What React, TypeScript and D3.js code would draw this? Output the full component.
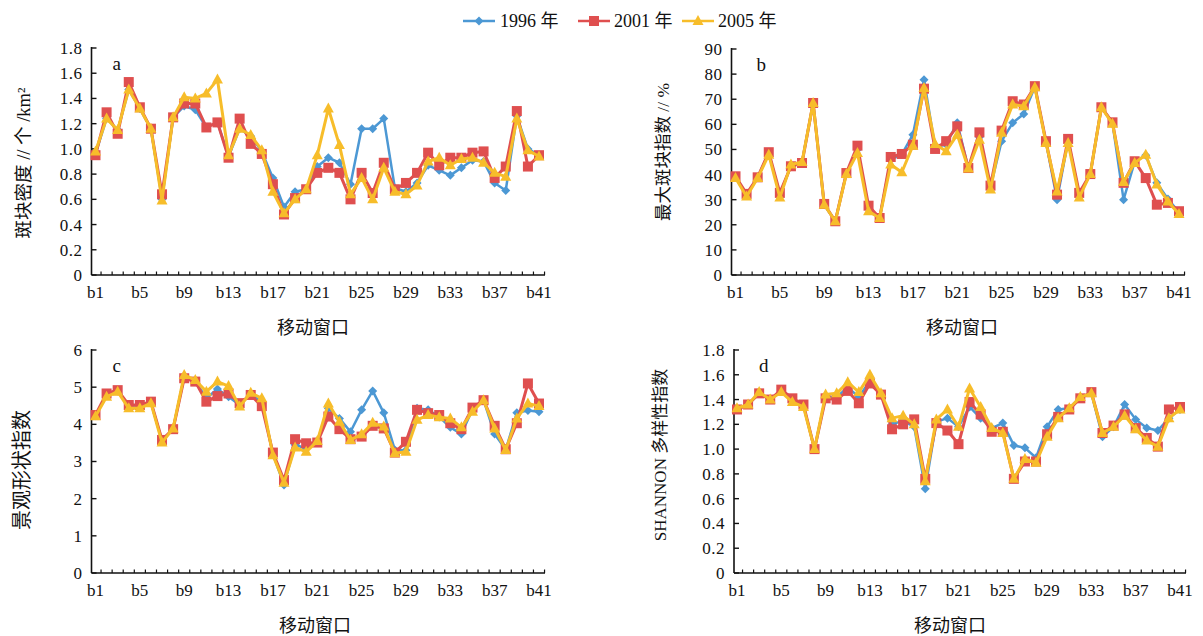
import React from "react";
import * as d3 from "d3";

const categories = Array.from({ length: 41 }, (_, i) => `b${i + 1}`);
const tickLabelCats = ["b1", "b5", "b9", "b13", "b17", "b21", "b25", "b29", "b33", "b37", "b41"];
const seriesNames = ["1996 年", "2001 年", "2005 年"];

// Panel a: 斑块密度
const a1996 = [0.96,1.24,1.15,1.47,1.32,1.16,0.60,1.25,1.34,1.31,1.17,1.21,0.94,1.16,1.10,0.98,0.77,0.54,0.66,0.68,0.86,0.93,0.89,0.72,1.16,1.16,1.24,0.69,0.66,0.73,0.87,0.83,0.79,0.85,0.91,0.90,0.73,0.67,1.26,1.00,0.95];
const a2001 = [0.95,1.29,1.12,1.53,1.33,1.16,0.64,1.25,1.36,1.36,1.17,1.21,0.93,1.24,1.04,0.96,0.72,0.48,0.61,0.68,0.81,0.85,0.81,0.60,0.81,0.65,0.89,0.68,0.73,0.81,0.97,0.87,0.93,0.93,0.97,0.98,0.77,0.86,1.30,0.86,0.95];
const a2005 = [0.98,1.24,1.15,1.47,1.32,1.16,0.59,1.25,1.41,1.40,1.44,1.55,0.95,1.16,1.11,0.99,0.66,0.49,0.60,0.68,0.95,1.32,1.03,0.64,0.77,0.60,0.85,0.66,0.64,0.71,0.90,0.93,0.87,0.92,0.93,0.89,0.81,0.78,1.24,0.99,0.94];

// Panel b: 最大斑块指数
const b1996 = [39,32,39,48.5,32,43.5,45,68.5,28,21.4,40.5,50,26.5,22.7,46,48,55.9,77.8,51,52,60.6,42.5,55,35,53.3,60.6,64.1,75,53,30,53.5,32,40.2,66.8,60.5,30,45,47.7,36.7,30.3,25];
const b2001 = [39.3,32.3,38.9,48.9,32.7,43.3,44.6,68.5,28.3,21.4,40.6,51.5,27.6,22.7,47,48.2,51.9,74.2,50.2,53.3,59.2,42.6,56.8,35.6,57.5,69.2,67.9,75.2,53.3,32,54.2,32.7,40.2,66.8,60.8,36.7,45.3,38.6,28,28.7,25.4];
const b2005 = [38.6,31.3,38.6,47.9,30.9,44,45,68.5,28,21.4,40.2,48.6,25.4,22.7,44,40.9,51.5,74.5,52.2,49.3,55.9,42.4,53.9,34,56.6,67.9,67.2,74.8,52.6,33.3,52.6,30.9,40.2,66.8,60.2,37,44.6,47.9,36,29.3,24.3];

// Panel c: 景观形状指数
const c1996 = [4.23,4.78,4.90,4.47,4.47,4.59,3.54,3.88,5.28,5.17,4.70,4.95,4.74,4.52,4.82,4.60,3.20,2.37,3.45,3.35,3.55,4.43,4.16,3.80,4.39,4.90,4.31,3.31,3.30,4.43,4.39,4.20,3.92,3.74,4.40,4.65,3.74,3.32,4.31,4.37,4.34];
const c2001 = [4.25,4.83,4.92,4.52,4.52,4.61,3.58,3.87,5.24,5.15,4.61,4.76,4.83,4.57,4.79,4.49,3.24,2.50,3.60,3.49,3.51,4.21,3.87,3.60,3.67,3.96,3.89,3.24,3.53,4.39,4.30,4.25,4.03,3.87,4.45,4.65,3.96,3.33,4.03,5.10,4.56];
const c2005 = [4.22,4.74,4.88,4.43,4.43,4.57,3.51,3.89,5.33,5.19,4.88,5.15,5.03,4.48,4.85,4.70,3.17,2.43,3.38,3.26,3.55,4.56,4.07,3.58,3.73,4.04,3.94,3.22,3.26,4.12,4.25,4.19,4.16,3.92,4.34,4.65,3.89,3.31,4.16,4.56,4.49];

// Panel d: SHANNON 多样性指数
const d1996 = [1.32,1.36,1.45,1.40,1.47,1.40,1.35,1.00,1.42,1.42,1.50,1.42,1.55,1.44,1.20,1.23,1.18,0.68,1.22,1.25,1.18,1.34,1.25,1.17,1.21,1.03,1.01,0.93,1.18,1.32,1.33,1.42,1.45,1.10,1.18,1.36,1.24,1.17,1.15,1.25,1.32];
const d2001 = [1.32,1.36,1.45,1.40,1.48,1.41,1.36,1.00,1.41,1.40,1.47,1.37,1.53,1.44,1.16,1.20,1.24,0.76,1.21,1.15,1.04,1.38,1.28,1.14,1.14,0.76,0.90,0.90,1.12,1.26,1.32,1.41,1.46,1.13,1.19,1.28,1.17,1.09,1.02,1.32,1.34];
const d2005 = [1.33,1.36,1.46,1.40,1.46,1.38,1.34,1.00,1.44,1.45,1.54,1.46,1.60,1.45,1.25,1.27,1.20,0.74,1.24,1.32,1.18,1.49,1.34,1.17,1.13,0.76,0.92,0.89,1.10,1.25,1.33,1.42,1.45,1.13,1.18,1.27,1.16,1.07,1.02,1.25,1.32];

const aTicks = [0, 0.2, 0.4, 0.6, 0.8, 1.0, 1.2, 1.4, 1.6, 1.8];
const bTicks = [0, 10, 20, 30, 40, 50, 60, 70, 80, 90];
const cTicks = [0, 1, 2, 3, 4, 5, 6];
const dTicks = [0, 0.2, 0.4, 0.6, 0.8, 1.0, 1.2, 1.4, 1.6, 1.8];

const COLORS = ["#4C98D4", "#DF4F4F", "#F7BD2A"];
const FONT = "'Liberation Serif', 'Noto Sans CJK SC', serif";

type PanelCfg = {
  letter: string;
  series: number[][];
  ticks: number[];
  fmt: (v: number) => string;
  axL: number; axR: number; top: number; bottom: number;
  p0: number; p1: number;
  yTitle: string; yTitleX: number; yTitleY: number; yTitleSize: number;
  xTitleX: number;
};

const fmt1 = (v: number) => (v === 0 ? "0" : v.toFixed(1));
const fmt0 = (v: number) => String(v);

const panels: PanelCfg[] = [
  { letter: "a", series: [a1996, a2001, a2005], ticks: aTicks, fmt: fmt1, axL: 91.5, axR: 545, top: 48, bottom: 275, p0: 95.5, p1: 539, yTitle: "斑块密度 // 个 /km²", yTitleX: 24, yTitleY: 163, yTitleSize: 18.5, xTitleX: 313 },
  { letter: "b", series: [b1996, b2001, b2005], ticks: bTicks, fmt: fmt0, axL: 731.5, axR: 1185, top: 49, bottom: 275, p0: 735.5, p1: 1179, yTitle: "最大斑块指数 // %", yTitleX: 663, yTitleY: 152, yTitleSize: 17.5, xTitleX: 962 },
  { letter: "c", series: [c1996, c2001, c2005], ticks: cTicks, fmt: fmt0, axL: 91.5, axR: 545, top: 350, bottom: 573, p0: 95.5, p1: 539, yTitle: "景观形状指数", yTitleX: 22, yTitleY: 470, yTitleSize: 20, xTitleX: 315 },
  { letter: "d", series: [d1996, d2001, d2005], ticks: dTicks, fmt: fmt1, axL: 734, axR: 1186, top: 350, bottom: 573, p0: 737, p1: 1180, yTitle: "SHANNON 多样性指数", yTitleX: 660, yTitleY: 455, yTitleSize: 17, xTitleX: 950 },
];

function Marker({ kind, x, y }: { kind: number; x: number; y: number }) {
  if (kind === 0) {
    const r = 4.5;
    return <path d={`M${x},${y - r}L${x + r},${y}L${x},${y + r}L${x - r},${y}Z`} fill={COLORS[0]} />;
  }
  if (kind === 1) {
    const s = 10;
    return <rect x={x - s / 2} y={y - s / 2} width={s} height={s} fill={COLORS[1]} />;
  }
  const w = 11, h = 10;
  return <path d={`M${x},${y - h * 0.6}L${x + w / 2},${y + h * 0.4}L${x - w / 2},${y + h * 0.4}Z`} fill={COLORS[2]} />;
}

function Panel({ cfg }: { cfg: PanelCfg }) {
  const x = d3.scalePoint<string>().domain(categories).range([cfg.p0, cfg.p1]);
  const yMax = cfg.ticks[cfg.ticks.length - 1];
  const y = d3.scaleLinear().domain([0, yMax]).range([cfg.bottom, cfg.top]);
  const step = x.step();
  const line = d3.line<number>().x((_, i) => x(categories[i])!).y((v) => y(v));
  const widths = [2.5, 3, 3];
  return (
    <g>
      <line x1={cfg.axL} x2={cfg.axL} y1={cfg.top - 1} y2={cfg.bottom} stroke="#111" strokeWidth={1.6} />
      <line x1={cfg.axL} x2={cfg.axR} y1={cfg.bottom} y2={cfg.bottom} stroke="#111" strokeWidth={1.6} />
      {cfg.ticks.map((t) => (
        <g key={t}>
          <line x1={cfg.axL} x2={cfg.axL + 5} y1={y(t)} y2={y(t)} stroke="#111" strokeWidth={1.4} />
          <text x={cfg.axL - 9} y={y(t)} dy="0.35em" textAnchor="end" fontFamily={FONT} fontSize={17} fill="#111" letterSpacing={0.5}>
            {cfg.fmt(t)}
          </text>
        </g>
      ))}
      {categories.map((c) => (
        <line key={c} x1={x(c)! + step / 2} x2={x(c)! + step / 2} y1={cfg.bottom} y2={cfg.bottom - 3.5} stroke="#111" strokeWidth={1.2} />
      ))}
      {tickLabelCats.map((c) => (
        <text key={c} x={x(c)!} y={cfg.bottom + 23} textAnchor="middle" fontFamily={FONT} fontSize={17} fill="#111">
          {c}
        </text>
      ))}
      <text x={cfg.xTitleX} y={cfg.bottom + 59} textAnchor="middle" fontFamily={FONT} fontSize={18} fill="#111">
        移动窗口
      </text>
      <text transform={`translate(${cfg.yTitleX},${cfg.yTitleY}) rotate(-90)`} textAnchor="middle" dy="0.35em" fontFamily={FONT} fontSize={cfg.yTitleSize} fill="#111">
        {cfg.yTitle}
      </text>
      <text x={cfg.axL + (cfg.letter === "a" || cfg.letter === "c" ? 21 : 25)} y={cfg.top + 22} fontFamily={FONT} fontSize={19} fill="#111">
        {cfg.letter}
      </text>
      {cfg.series.map((s, k) => (
        <g key={k}>
          <path d={line(s)!} fill="none" stroke={COLORS[k]} strokeWidth={widths[k]} strokeLinejoin="round" />
          {s.map((v, i) => (
            <Marker key={i} kind={k} x={x(categories[i])!} y={y(v)} />
          ))}
        </g>
      ))}
    </g>
  );
}

function Legend() {
  const items = [
    { x0: 463, tx: 500 },
    { x0: 578, tx: 614 },
    { x0: 682, tx: 718 },
  ];
  const cy = 21;
  return (
    <g>
      {items.map((it, k) => (
        <g key={k}>
          <line x1={it.x0} x2={it.x0 + 32} y1={cy} y2={cy} stroke={COLORS[k]} strokeWidth={2.5} />
          <Marker kind={k} x={it.x0 + 16} y={cy} />
          <text x={it.tx} y={cy} dy="0.35em" fontFamily={FONT} fontSize={18} fill="#111">
            {seriesNames[k]}
          </text>
        </g>
      ))}
    </g>
  );
}

export default function App() {
  return (
    <svg width={1203} height={636} style={{ position: "absolute", left: 0, top: 0, background: "#fff" }}>
      <rect width={1203} height={636} fill="#fff" />
      <Legend />
      {panels.map((p) => (
        <Panel key={p.letter} cfg={p} />
      ))}
    </svg>
  );
}
